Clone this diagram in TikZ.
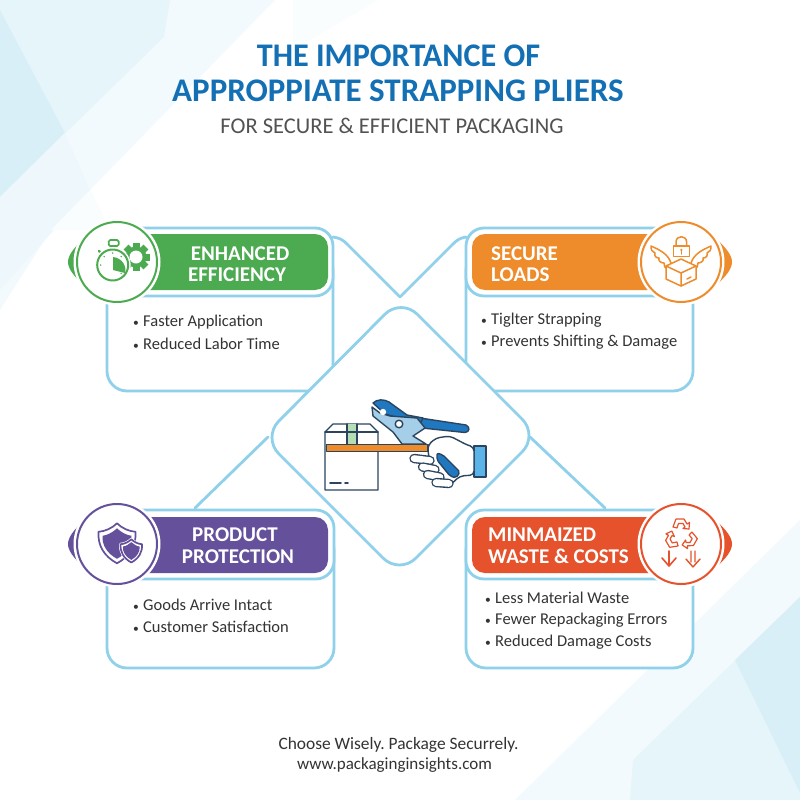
\documentclass[tikz,border=0pt]{standalone}
\usepackage{fontspec}
\usetikzlibrary{calc}
\setmainfont{Carlito}
\definecolor{panelblue}{HTML}{8FD0EA}
\definecolor{titleblue}{HTML}{1470B5}
\definecolor{effgreen}{HTML}{4CAA50}
\definecolor{loadorange}{HTML}{EE8B2B}
\definecolor{protpurple}{HTML}{65509B}
\definecolor{wastered}{HTML}{E5522C}
\definecolor{navyline}{HTML}{2B4560}
\definecolor{plierblue}{HTML}{1F78C0}
\definecolor{plierlight}{HTML}{A5CFE8}
\definecolor{cuffblue}{HTML}{5BB4E8}
\definecolor{tapegreen}{HTML}{B5DEB5}
\tikzset{
	panelline/.style={draw=panelblue,line width=2.8pt},
	bandtext/.style={text=white,font=\bfseries\fontsize{21}{21}\selectfont,inner sep=0pt},
	itemtext/.style={text=black!80,font=\fontsize{16.5}{16.5}\selectfont,anchor=west,inner sep=0pt},
	footertext/.style={text=black!80,inner sep=0pt},
	iconline/.style={line width=1.5pt,line join=round,line cap=round},
	handline/.style={draw=navyline,line width=1.4pt,line join=round,line cap=round}
}
\begin{document}
\frenchspacing
\begin{tikzpicture}[line cap=round,line join=round,x=1pt,y=-1pt]
	\useasboundingbox (0,0) rectangle (800,800);
	% background
	\fill[white] (0,0) rectangle (800,800);
	\fill[panelblue!11] (0,0) -- (275,0) -- (51,230) -- (0,310) -- cycle;
	\fill[panelblue!22] (0,0) -- (170,0) -- (164,37) -- (0,197) -- cycle;
	\fill[panelblue!34] (0,10) -- (65,133) -- (0,197) -- cycle;
	\fill[panelblue!15] (0,197) -- (65,133) -- (90,190) -- (0,290) -- cycle;
	\fill[panelblue!5] (51,230) -- (90,190) -- (110,230) -- cycle;
	\fill[panelblue!4] (293,0) -- (378,0) -- (293,50) -- cycle;
	\fill[panelblue!11] (800,520) -- (515,800) -- (800,800) -- cycle;
	\fill[panelblue!22] (800,597) -- (633,760) -- (630,800) -- (800,800) -- cycle;
	\fill[panelblue!34] (735,660) -- (800,793) -- (800,597) -- cycle;
	% panel bodies
	\draw[panelline,fill=white,rounded corners=20pt] (107,280) -- (107,391) -- (333,391) -- (333,250) -- cycle;
	\draw[panelline,fill=white,rounded corners=20pt] (693,280) -- (693,391) -- (466,391) -- (466,250) -- cycle;
	\draw[panelline,fill=white,rounded corners=20pt] (107,560) -- (107,668) -- (334,668) -- (334,530) -- cycle;
	\draw[panelline,fill=white,rounded corners=20pt] (693,560) -- (693,668) -- (466,668) -- (466,530) -- cycle;
	% lines to the centre
	\draw[panelline] (333,237) .. controls (340,238) and (343,240) .. (347,244) -- (400,297) -- (453,244) .. controls (457,240) and (460,238) .. (466,237);
	\draw[panelline] (195,508) -- (268,437);
	\draw[panelline] (605,508) -- (530,437);
	% centre diamond
	\draw[panelline,fill=white,rounded corners=23pt] (401,298) -- (538.5,435.5) -- (399.5,574.5) -- (262.5,437.5) -- cycle;
	% bands
	\draw[panelline,fill=white,rounded corners=18pt] (120,228) rectangle (333,296);
	\draw[panelline,fill=white,rounded corners=18pt] (466,228) rectangle (680,296);
	\draw[panelline,fill=white,rounded corners=18pt] (120,510) rectangle (334,579);
	\draw[panelline,fill=white,rounded corners=18pt] (466,510) rectangle (680,579);
	\fill[effgreen,rounded corners=13pt] (120,234) rectangle (328,290);
	\fill[loadorange,rounded corners=13pt] (472,234) rectangle (680,290);
	\fill[protpurple,rounded corners=13pt] (120,517) rectangle (328,573);
	\fill[wastered,rounded corners=13pt] (472,517) rectangle (680,573);
	% side crescents and circles
	\fill[effgreen] (85,238) .. controls (73,248) and (68,256) .. (68,262) .. controls (68,268) and (73,276) .. (85,286) -- cycle;
	\fill[protpurple] (85,520) .. controls (73,530) and (68,538) .. (68,544) .. controls (68,550) and (73,558) .. (85,568) -- cycle;
	\fill[loadorange] (715,238) .. controls (727,248) and (732,256) .. (732,262) .. controls (732,268) and (727,276) .. (715,286) -- cycle;
	\fill[wastered] (715,520) .. controls (727,530) and (732,538) .. (732,544) .. controls (732,550) and (727,558) .. (715,568) -- cycle;
	\foreach \cx/\cy/\cc in {117/262/effgreen,681/262/loadorange,117/544/protpurple,681/544/wastered}{
		\fill[white] (\cx,\cy) circle (43.5);
		\draw[\cc,line width=2pt] (\cx,\cy) circle (40);
	}
	% stopwatch and gear
	\foreach \a in {0,45,...,315}{
		\fill[effgreen,rotate around={\a:(136,257)}] (132.5,243) rectangle (139.5,249);
	}
	\fill[effgreen] (136,257) circle (10.5);
	\fill[white] (136,257) circle (6.5);
	\draw[effgreen,line width=1.7pt,fill=white,rounded corners=1.5pt] (108.7,240) rectangle (118.7,246);
	\draw[effgreen,line width=2pt] (113.7,246) -- (113.7,250);
	\draw[effgreen,line width=2.4pt] (99,251) -- (103,255);
	\fill[white] (112.7,265) circle (18);
	\draw[effgreen,line width=2pt] (112.7,265) circle (15.5);
	\fill[effgreen] (113,257) -- (113,270) -- (125,273) .. controls (127,266) and (122,258) .. (113,257) -- cycle;
	\foreach \a in {180,225,270,315,45}{
		\fill[effgreen] ($(112.7,265)+(\a:12)$) circle (.8);
	}
	% winged box
	\draw[loadorange,iconline] (673.3,246) rectangle (689.3,256.7);
	\draw[loadorange,iconline] (676,246) -- (676,242) .. controls (676,235) and (686.6,235) .. (686.6,242) -- (686.6,246);
	\fill[loadorange] (681.3,250) circle (1.3);
	\draw[loadorange,iconline] (681.3,250) -- (681.3,254);
	\draw[loadorange,iconline] (671,263) .. controls (668,254) and (660,250) .. (651,246) .. controls (651,250) and (652,252) .. (655,253) .. controls (654,256) and (656,258) .. (659,258) .. controls (658,261) and (661,263) .. (664,263) .. controls (664,266) and (665,268) .. (667,269);
	\begin{scope}[shift={(1362,0)},xscale=-1]
		\draw[loadorange,iconline] (671,263) .. controls (668,254) and (660,250) .. (651,246) .. controls (651,250) and (652,252) .. (655,253) .. controls (654,256) and (656,258) .. (659,258) .. controls (658,261) and (661,263) .. (664,263) .. controls (664,266) and (665,268) .. (667,269);
	\end{scope}
	\draw[loadorange,iconline,fill=white] (681,259) -- (696,266) -- (696,279) -- (681,286) -- (666,279) -- (666,266) -- cycle;
	\draw[loadorange,iconline] (666,266) -- (681,273) -- (696,266) (681,273) -- (681,286) (687,279) -- (691,277);
	% shields
	\foreach \sx/\sy/\sc in {117/523.3/1,131.3/539.3/.58}{
		\begin{scope}[shift={(\sx,\sy)},scale=\sc]
			\draw[white,fill=white,line width=3pt] (0,0) .. controls (5,5) and (12,8) .. (18.5,8.5) .. controls (19.5,22) and (13,33) .. (0,40) .. controls (-13,33) and (-19.5,22) .. (-18.5,8.5) .. controls (-12,8) and (-5,5) .. cycle;
			\draw[protpurple,line width=1.7pt] (0,0) .. controls (5,5) and (12,8) .. (18.5,8.5) .. controls (19.5,22) and (13,33) .. (0,40) .. controls (-13,33) and (-19.5,22) .. (-18.5,8.5) .. controls (-12,8) and (-5,5) .. cycle;
			\fill[protpurple] (0,5) .. controls (4,9) and (10,12) .. (14.5,12.5) .. controls (15,22) and (10,30) .. (0,35.5) .. controls (-10,30) and (-15,22) .. (-14.5,12.5) .. controls (-10,12) and (-4,9) .. cycle;
		\end{scope}
	}
	% recycle and down arrows
	\foreach \a in {0,120,240}{
		\begin{scope}[shift={(681,535)},rotate=\a]
			\draw[wastered,line width=1.2pt] (-8,-8) -- (-5,-16) -- (3,-16) -- (6,-11) -- (8.5,-12.5) -- (8,-6) -- (2,-6.5) -- (4,-8) -- (2,-11.5) -- (-2.5,-11.5) -- (-4,-7) -- cycle;
		\end{scope}
	}
	\draw[wastered,line width=1.6pt] (669,551) -- (669,566) (662,558) -- (669,566) -- (676,558);
	\draw[wastered,line width=1.4pt] (691,551) -- (691,562) (695,551) -- (695,562) (686,559) -- (693,567) -- (700,559);
	% box with strap
	\draw[handline,fill=white] (325,432) -- (333,424) -- (370,424) -- (378,432) -- (378,490) -- (325,490) -- cycle;
	\fill[tapegreen] (347,424) rectangle (357,444);
	\draw[handline] (325,432) -- (378,432) (347,424) -- (347,444) (357,424) -- (357,444);
	\draw[handline,line width=1.8pt] (330,483) -- (341,483) (345,483) -- (348,483);
	% pliers
	\draw[handline,fill=plierblue] (420,418) -- (466,425) .. controls (470,427) and (470,432) .. (465,432.5) -- (422,428) -- cycle;
	\draw[handline,fill=plierblue] (373,403) .. controls (377,399) and (384,399) .. (389,402) -- (407,415) -- (423,418) -- (420,424) -- (385,414) -- cycle;
	\draw[handline,fill=plierlight] (372,407) -- (380,413) -- (390,416) -- (417,418) -- (425,428) -- (413,436) -- (426,444) -- (402,444) -- (393,432) -- (373,416) -- cycle;
	\draw[handline,fill=white] (399,424) circle (3.8);
	\fill[white] (383,412) circle (3.2);
	% hand
	\draw[handline,fill=cuffblue] (474,446) rectangle (486,477);
	\draw[handline,fill=white,rounded corners=4pt] (428,452) -- (428,445) -- (436,438) -- (450,436) -- (467,445) -- (474,447) -- (474,475) -- (460,476) -- (448,487) -- (440,480) -- (430,462) -- cycle;
	\draw[handline,fill=plierblue,rounded corners=2pt] (437,453) -- (443,455) -- (460,472) -- (456,478) -- (450,476) -- (437,460) -- cycle;
	\foreach \ax/\ay/\bx/\by in {414/458.5/430/460.5,422.5/467/435/469.5,427.5/474.5/440/477,436/482.5/449/483.5}{
		\draw[navyline,line width=9.4pt] (\ax,\ay) -- (\bx,\by);
		\draw[white,line width=6.6pt] (\ax,\ay) -- (\bx,\by);
	}
	% strap
	\draw[handline,fill=loadorange] (326.5,444.3) rectangle (428,451.7);
	% titles
	\node[text=titleblue,font=\bfseries\fontsize{33}{33}\selectfont,inner sep=0pt,xscale=.975] (title1) at (398.5,55.5) {THE IMPORTANCE OF};
	\node[text=titleblue,font=\bfseries\fontsize{33}{33}\selectfont,inner sep=0pt] (title2) at (398,90.5) {APPROPPIATE STRAPPING PLIERS};
	\node[text=black!68,font=\fontsize{22.5}{22.5}\selectfont,inner sep=0pt] (subtitle) at (392,126) {FOR SECURE \& EFFICIENT PACKAGING};
	% band labels
	\node[bandtext] (eff1) at (240,253.5) {ENHANCED};
	\node[bandtext] (eff2) at (237,274.5) {EFFICIENCY};
	\node[bandtext,anchor=west] (load1) at (491,253.5) {SECURE};
	\node[bandtext,anchor=west] (load2) at (491,274.5) {LOADS};
	\node[bandtext] (prot1) at (235,534.5) {PRODUCT};
	\node[bandtext] (prot2) at (238,556.5) {PROTECTION};
	\node[bandtext,anchor=west] (waste1) at (488,534.5) {MINMAIZED};
	\node[bandtext,anchor=west] (waste2) at (488,556.5) {WASTE \& COSTS};
	% bullet lists
	\foreach \n/\tx/\ty/\lbl in {a/133/322/Faster Application,b/133/344/Reduced Labor Time,c/481/320/Tiglter Strapping,d/481/342/Prevents Shifting \& Damage,e/133/605/Goods Arrive Intact,f/133/627/Customer Satisfaction,g/485/598/Less Material Waste,h/485/620/Fewer Repackaging Errors,i/485/642/Reduced Damage Costs}{
		\node[itemtext] (item\n) at (\tx,\ty) {\makebox[10pt][l]{\scalebox{.7}{\textbullet}}\lbl};
	}
	% footer
	\node[footertext,font=\fontsize{17.4}{17.4}\selectfont] (foot1) at (398.5,745) {Choose Wisely. Package Securrely.};
	\node[footertext,font=\fontsize{17}{17}\selectfont] (foot2) at (394.5,765) {www.packaginginsights.com};
\end{tikzpicture}
\end{document}
